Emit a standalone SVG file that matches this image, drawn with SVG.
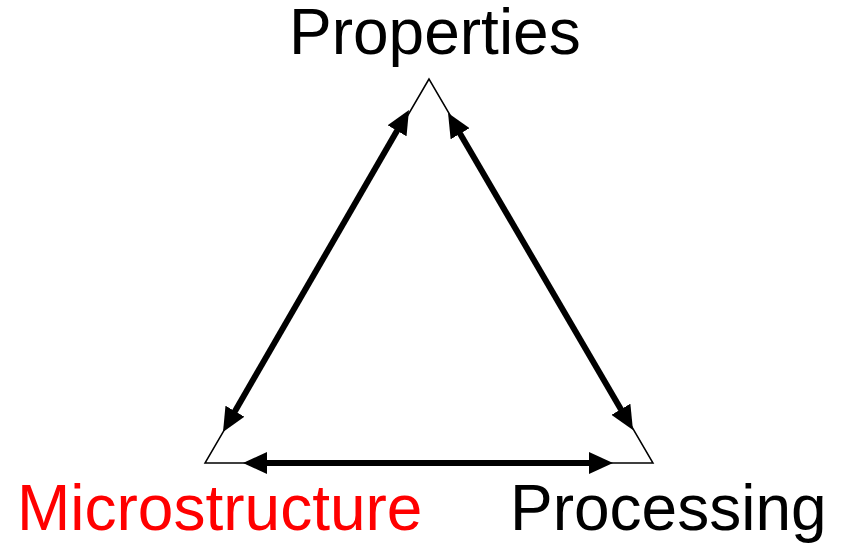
<svg xmlns="http://www.w3.org/2000/svg" width="842" height="547" viewBox="0 0 842 547">
<style>
.lbl{font-family:"Liberation Sans",Arial,sans-serif;font-size:64px;fill:#000}
.red{fill:#ff0000}
.conn{stroke:#000;stroke-width:6;fill:none;marker-start:url(#ah);marker-end:url(#ah)}
.tri{fill:none;stroke:#000;stroke-width:1.5}
</style>
<defs>
<marker id="ah" viewBox="0 0 24 22" refX="9" refY="11" markerWidth="24" markerHeight="22" markerUnits="userSpaceOnUse" orient="auto-start-reverse">
<path d="M0,0 L24,11 L0,22 z" fill="#000"/>
</marker>
</defs>
<rect width="842" height="547" fill="#fff"/>
<g id="triangle"><polygon class="tri" points="429,79 205,463 653,463"/></g>
<g id="connectors">
<line class="conn" x1="230.5" y1="419" x2="401.5" y2="123"/>
<line class="conn" x1="455.6" y1="126" x2="625.4" y2="417"/>
<line class="conn" x1="258" y1="463" x2="598" y2="463"/>
</g>
<g id="properties"><text class="lbl" x="289" y="54">Properties</text></g>
<g id="microstructure"><text class="lbl red" x="17" y="530">Microstructure</text></g>
<g id="processing"><text class="lbl" x="510" y="530">Processing</text></g>
</svg>
